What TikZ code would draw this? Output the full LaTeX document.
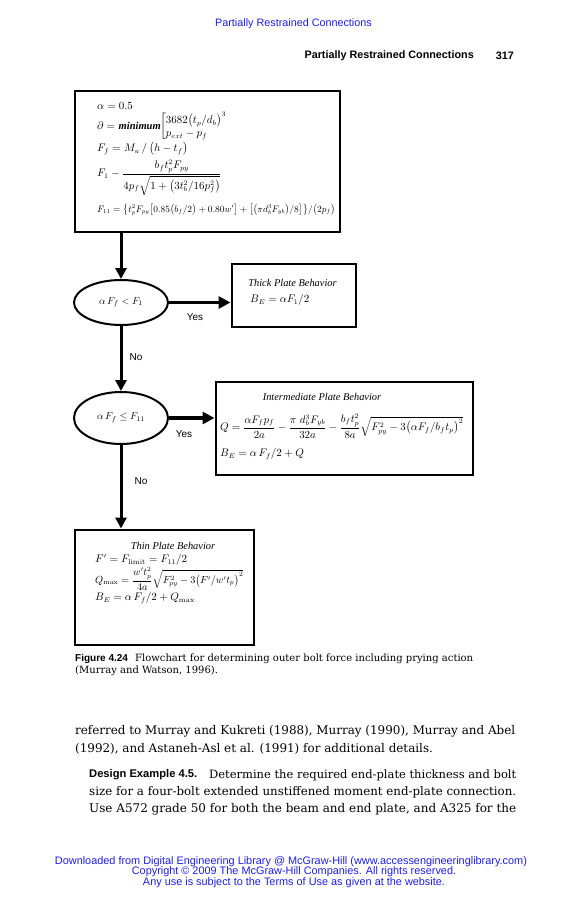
\documentclass[tikz,border=0pt]{standalone}
\usepackage{fontspec}
\usepackage{amsmath}
\usepackage{graphicx}
\usetikzlibrary{arrows.meta,shapes.geometric}
\newfontfamily\sansf{Liberation Sans}
\newfontfamily\serf{DejaVu Serif}
\newfontfamily\tms{Liberation Serif}
\definecolor{hblue}{RGB}{30,30,240}
\newcommand\fitw[2]{\resizebox{#1}{!}{#2}}
\newlength\Lw
\newcommand\bodyA{referred to Murray and Kukreti (1988), Murray (1990), Murray and Abel}
\newcommand\capA{Flowchart for determining outer bolt force including prying action}
\newcommand\footA{Downloaded from Digital Engineering Library @ McGraw-Hill (www.accessengineeringlibrary.com)}
\begin{document}
\settowidth\Lw{\serf\bodyA}\pgfmathsetmacro\bsc{440/\Lw}%
\settowidth\Lw{\serf\capA}\pgfmathsetmacro\csc{338/\Lw}%
\settowidth\Lw{\sansf\footA}\pgfmathsetmacro\fsc{472/\Lw}%
\begin{tikzpicture}[x=1pt,y=-1pt,
  boxs/.style={draw, line width=2pt, anchor=north west, inner sep=0pt},
  ell/.style={draw, ellipse, line width=2pt, inner sep=0pt, minimum width=94pt, minimum height=45pt},
  conn/.style={line width=3pt, -{Triangle[length=11pt,width=11pt]}},
  hconn/.style={line width=3.6pt, -{Triangle[length=12pt,width=12pt]}},
  lab/.style={font=\sansf\fontsize{10}{12}\selectfont, inner sep=0pt},
  mt/.style={anchor=west, inner sep=0pt, font=\fontsize{10.5}{12}\selectfont},
  ttl/.style={inner sep=0pt, font=\tms\itshape\fontsize{10.4}{12}\selectfont},
  hdr/.style={inner sep=0pt, font=\sansf\fontsize{10.8}{13}\selectfont},
  txt/.style={anchor=west, inner sep=0pt, font=\serf},
  sbold/.style={anchor=west, inner sep=0pt, font=\sansf\bfseries\fontsize{10}{12}\selectfont},
  foot/.style={inner sep=0pt, text=hblue, font=\sansf}]
\useasboundingbox (0,0) rectangle (586,900);
\fill[white] (0,0) rectangle (586,900);

% headers
\node[hdr, text=hblue] (h1) at (293.5,24) {Partially Restrained Connections};
\node[hdr, anchor=east, font=\sansf\bfseries\fontsize{10.8}{13}\selectfont] (h2) at (474,56) {Partially Restrained Connections};
\node[hdr, anchor=east, font=\sansf\bfseries\fontsize{10.8}{13}\selectfont] (pg) at (514,56) {317};

% boxes
\node[boxs, minimum width=265pt, minimum height=141pt] (topbox) at (74,90) {};
\node[boxs, minimum width=124.5pt, minimum height=63pt] (thick) at (230.5,263) {};
\node[boxs, minimum width=257.5pt, minimum height=93.5pt] (inter) at (214.5,380.5) {};
\node[boxs, minimum width=179pt, minimum height=115pt] (thin) at (74,528.5) {};

% ellipses
\node[ell] (e1) at (121,302.5) {\fontsize{10}{12}\selectfont$\alpha\,F_f < F_1$};
\node[ell, minimum height=52pt] (e2) at (121,418) {\fontsize{10}{12}\selectfont$\alpha\,F_f \le F_{11}$};

% connectors
\draw[conn] (topbox.south -| e1.north) -- (e1.north);
\draw[hconn] (e1.east) -- (e1.east -| thick.west);
\draw[conn] (e1.south) -- (e2.north);
\draw[hconn] (e2.east) -- (e2.east -| inter.west);
\draw[conn] (e2.south) -- (e2.south |- thin.north);

% labels
\node[lab] (y1) at (195,317) {Yes};
\node[lab] (n1) at (136,357) {No};
\node[lab] (y2) at (184,434) {Yes};
\node[lab] (n2) at (141,481) {No};

% top box content
\node[mt] (t1) at (97,106) {$\alpha = 0.5$};
\node[mt] (t2) at (97,126) {$\partial =$ {\tms\bfseries\itshape\fontsize{10.5}{12}\selectfont minimum}};
\node[mt] (t3) at (160,126) {$\left[\begin{array}{@{}l@{}} 3682\bigl(t_p/d_b\bigr)^3 \\[1pt] p_{ext} - p_f \end{array}\right.$};
\node[mt] (t4) at (97,149) {$F_f = M_u\,/\,\bigl(h - t_f\bigr)$};
\node[mt] (t5) at (97,178) {$F_1 - \dfrac{b_f t_p^2 F_{py}}{4p_f\sqrt{1+\bigl(3t_b^2/16p_f^2\bigr)}}$};
\node[mt] (t6) at (97,210) {\fitw{238pt}{$F_{11} = \bigl\{t_p^2F_{py}\bigl[0.85\bigl(b_f/2\bigr)+0.80w'\bigr]+\bigl[\bigl(\pi d_b^3F_{yb}\bigr)/8\bigr]\bigr\}/\bigl(2p_f\bigr)$}};

% thick box content
\node[ttl] (k1) at (292.5,283) {Thick Plate Behavior};
\node[mt] (k2) at (250,300) {$B_E = \alpha F_1/2$};

% intermediate box content
\node[ttl] (m1) at (322,397) {Intermediate Plate Behavior};
\node[mt] (m2) at (220,426) {\fitw{243pt}{$Q = \dfrac{\alpha F_f p_f}{2a} - \dfrac{\pi\ d_b^3F_{yb}}{32a} - \dfrac{b_f t_p^2}{8a}\sqrt{F_{py}^2 - 3\bigl(\alpha F_f/b_f t_p\bigr)^2}$}};
\node[mt] (m3) at (220,454) {$B_E = \alpha\,F_f/2 + Q$};

% thin box content
\node[ttl] (s1) at (173,546) {Thin Plate Behavior};
\node[mt] (s2) at (95,560) {$F' = F_{\mathrm{limit}} = F_{11}/2$};
\node[mt] (s3) at (95,579) {\fitw{148pt}{$Q_{\max} = \dfrac{w' t_p^2}{4a}\sqrt{F_{py}^2 - 3\bigl(F'/w' t_p\bigr)^2}$}};
\node[mt] (s4) at (95,598) {$B_E = \alpha\,F_f/2 + Q_{\max}$};

% caption
\node[sbold] (c0) at (75,659) {Figure 4.24};
\node[txt] (c1) at (135,659) {\scalebox{\csc}{\capA}};
\node[txt] (c2) at (75,671) {\scalebox{\csc}{(Murray and Watson, 1996).}};

% body
\node[txt] (b1) at (75,731) {\scalebox{\bsc}{\bodyA}};
\node[txt] (b2) at (75,749) {\scalebox{\bsc}{(1992), and Astaneh-Asl et al. (1991) for additional details.}};
\node[sbold] (d0) at (89,775) {\fitw{108pt}{Design Example 4.5.}};
\node[txt] (d1) at (209,775) {\fitw{307pt}{Determine the required end-plate thickness and bolt}};
\node[txt] (d2) at (89,792) {\fitw{427pt}{size for a four-bolt extended unstiffened moment end-plate connection.}};
\node[txt] (d3) at (89,809) {\fitw{427pt}{Use A572 grade 50 for both the beam and end plate, and A325 for the}};

% footer
\node[foot] (f1) at (291,862) {\scalebox{\fsc}{\footA}};
\node[foot] (f2) at (294,872) {\scalebox{\fsc}{Copyright \textcopyright{} 2009 The McGraw-Hill Companies. All rights reserved.}};
\node[foot] (f3) at (294,883) {\scalebox{\fsc}{Any use is subject to the Terms of Use as given at the website.}};
\end{tikzpicture}
\end{document}
